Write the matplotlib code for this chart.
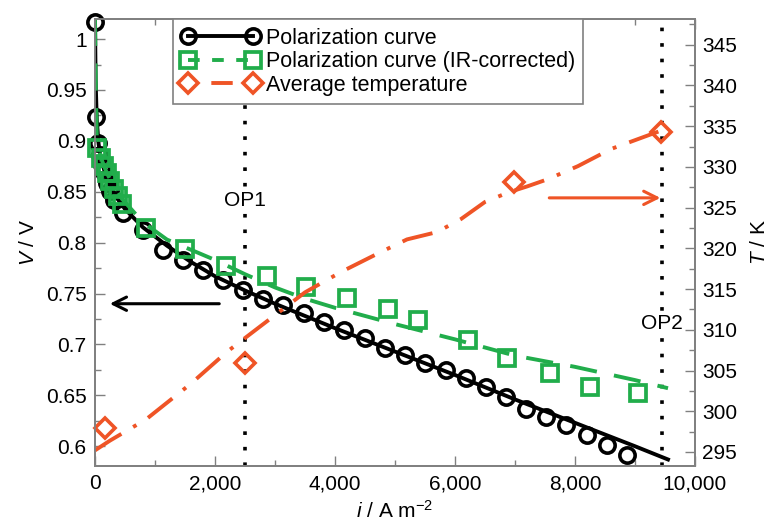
import matplotlib
matplotlib.use('Agg')
import matplotlib.pyplot as plt
from matplotlib.ticker import MultipleLocator, FuncFormatter
from matplotlib.lines import Line2D

plt.rcParams['font.family'] = ['Liberation Sans', 'DejaVu Sans']
plt.rcParams['mathtext.fontset'] = 'custom'
plt.rcParams['mathtext.rm'] = 'Liberation Sans'
plt.rcParams['mathtext.it'] = 'Liberation Sans:italic'

# polarization curve, measured points (i in A/m2, V in V)
pol_i = [0, 17, 50, 83, 117, 150, 200, 250, 317, 467,
         800, 1133, 1467, 1800, 2133, 2467, 2800, 3133, 3483, 3817,
         4150, 4500, 4833, 5167, 5500, 5850, 6183, 6517, 6850, 7183,
         7517, 7850, 8200, 8533, 8867]
pol_v = [1.017, 0.923, 0.898, 0.886, 0.876, 0.869, 0.859, 0.851, 0.842, 0.829,
         0.812, 0.793, 0.783, 0.773, 0.763, 0.753, 0.745, 0.739, 0.731, 0.722,
         0.714, 0.706, 0.697, 0.690, 0.682, 0.675, 0.667, 0.658, 0.648, 0.637,
         0.629, 0.621, 0.611, 0.601, 0.591]

# fitted polarization curve
pol_fit_i = [0, 10, 30, 60, 100, 200, 350, 500, 800, 1200, 1600, 2000, 2500,
             3000, 4000, 5000, 6000, 7000, 8000, 9000, 9550]
pol_fit_v = [1.02, 0.96, 0.92, 0.897, 0.882, 0.862, 0.845, 0.833, 0.815, 0.797,
             0.781, 0.767, 0.753, 0.740, 0.716, 0.693, 0.670, 0.646, 0.623, 0.600, 0.587]

# IR-corrected polarization curve
ir_i = [33, 100, 150, 200, 250, 317, 383, 450, 850, 1500, 2183, 2867, 3517,
        4200, 4883, 5383, 6217, 6867, 7583, 8250, 9050]
ir_v = [0.893, 0.883, 0.875, 0.868, 0.861, 0.853, 0.846, 0.838, 0.814, 0.794,
        0.777, 0.767, 0.756, 0.746, 0.735, 0.724, 0.704, 0.687, 0.672, 0.658, 0.652]

ir_fit_i = [0, 15, 30, 100, 200, 300, 450, 800, 1200, 1600, 2000, 2500, 3000,
            3500, 4000, 5000, 6000, 7000, 8000, 9000, 9550]
ir_fit_v = [1.02, 0.95, 0.905, 0.883, 0.868, 0.857, 0.843, 0.82, 0.803, 0.793,
            0.783, 0.769, 0.756, 0.745, 0.736, 0.720, 0.705, 0.689, 0.678, 0.665, 0.657]

# average temperature (K)
temp_i = [166, 2492, 6977, 9435]
temp_t = [297.9, 305.9, 328.1, 334.3]

temp_fit_i = [0, 250, 850, 1600, 2200, 2750, 3500, 4100, 4750, 5200, 5700,
              6100, 6500, 6900, 7200, 7550, 8050, 8600, 9450]
temp_fit_t = [295.2, 296.4, 299.0, 303.4, 307.3, 310.4, 314.6, 317.1, 319.5,
              321.1, 322.0, 323.6, 325.7, 326.9, 327.6, 328.5, 330.1, 332.2, 334.5]

op_i = [2500, 9450]
op_labels = ['OP1', 'OP2']
op_label_v = [0.841, 0.7205]

green = '#21ad4b'
orange = '#ef5426'
gray = '#808080'
fs = 15

fig = plt.figure(figsize=(7.73, 5.25), dpi=100)
ax = fig.add_axes([95 / 773, 59 / 525, 600 / 773, 447 / 525])
ax2 = ax.twinx()

ax.plot(pol_fit_i, pol_fit_v, color='black', lw=2.8, zorder=3)
ax.plot(pol_i, pol_v, ls='none', marker='o', ms=11, mew=2.6, mfc='none',
        mec='black', zorder=3, clip_on=False)
ax.plot(ir_fit_i, ir_fit_v, color=green, lw=2.8, dashes=(7, 4.5), zorder=4)
ax.plot(ir_i, ir_v, ls='none', marker='s', ms=11.5, mew=2.7, mfc='none',
        mec=green, zorder=4, clip_on=False)

for x, lab, yv in zip(op_i, op_labels, op_label_v):
    ax.axvline(x, color='black', lw=2.6, dashes=(1, 3.3), zorder=2)
    ax.text(x, yv, lab, ha='center', va='center', fontsize=fs, zorder=5,
            bbox=dict(fc='white', ec='none', pad=1.5))

ax.annotate('', xy=(200, 0.740), xytext=(2117, 0.740),
            arrowprops=dict(arrowstyle='->', color='black', lw=2.2, mutation_scale=24))

ax2.plot(temp_fit_i, temp_fit_t, color=orange, lw=2.8, dashes=(8, 3.5, 1, 3.5))
ax2.plot(temp_i, temp_t, ls='none', marker='D', ms=10, mew=2.6, mfc='none',
         mec=orange, clip_on=False)
ax2.annotate('', xy=(9470, 326.2), xytext=(7525, 326.2),
             arrowprops=dict(arrowstyle='->', color=orange, lw=2.2, mutation_scale=24))

ax.set_xlim(0, 10000)
ax.set_ylim(0.5806, 1.0197)
ax2.set_ylim(293.28, 348.16)

ax.xaxis.set_major_locator(MultipleLocator(2000))
ax.xaxis.set_minor_locator(MultipleLocator(1000))
ax.yaxis.set_major_locator(MultipleLocator(0.05))
ax.yaxis.set_minor_locator(MultipleLocator(0.025))
ax2.yaxis.set_major_locator(MultipleLocator(5))
ax2.yaxis.set_minor_locator(MultipleLocator(2.5))
ax.xaxis.set_major_formatter(FuncFormatter(lambda v, p: f'{v:,.0f}'))
ax.yaxis.set_major_formatter(FuncFormatter(lambda v, p: f'{v:g}'))
ax2.yaxis.set_major_formatter(FuncFormatter(lambda v, p: f'{v:.0f}'))

ax.tick_params(which='both', direction='in', top=True, right=False,
               labelsize=fs, color=gray, width=1, pad=6)
ax.tick_params(which='major', length=7)
ax.tick_params(which='minor', length=4)
ax2.tick_params(which='both', direction='in', labelsize=fs, color=gray, width=1, pad=5)
ax2.tick_params(which='major', length=7)
ax2.tick_params(which='minor', length=4)

for a in (ax, ax2):
    for s in a.spines.values():
        s.set_color(gray)
        s.set_linewidth(1.3)

ax.set_xlabel('$\\mathit{i}$ / A m$^{-2}$', fontsize=fs, labelpad=5)
ax.set_ylabel('$\\mathit{V}$ / V', fontsize=fs, labelpad=6)
ax2.set_ylabel('$\\mathit{T}$ / K', fontsize=fs, labelpad=9)

handles = [
    Line2D([], [], color='black', lw=2.8, marker='o', ms=11, mew=2.6, mfc='none'),
    Line2D([], [], color=green, lw=2.8, dashes=(3, 3.2), marker='s', ms=11, mew=2.7, mfc='none'),
    Line2D([], [], color=orange, lw=2.8, dashes=(0, 6.0, 5.5, 20), marker='D', ms=10,
           mew=2.6, mfc='none'),
]
labels = ['Polarization curve', 'Polarization curve (IR-corrected)', 'Average temperature']
leg = ax2.legend(handles, labels, loc='upper left', bbox_to_anchor=(0.13, 1.0, 0.6833, 0.0),
                 mode='expand', borderaxespad=0, fontsize=15.5, numpoints=2,
                 handlelength=3.6, handletextpad=0.3, labelspacing=0.12,
                 borderpad=0.4, fancybox=False, framealpha=1, edgecolor=gray)
leg.get_frame().set_linewidth(1.2)
leg.set_zorder(10)

fig.savefig('out.png', dpi=100)
